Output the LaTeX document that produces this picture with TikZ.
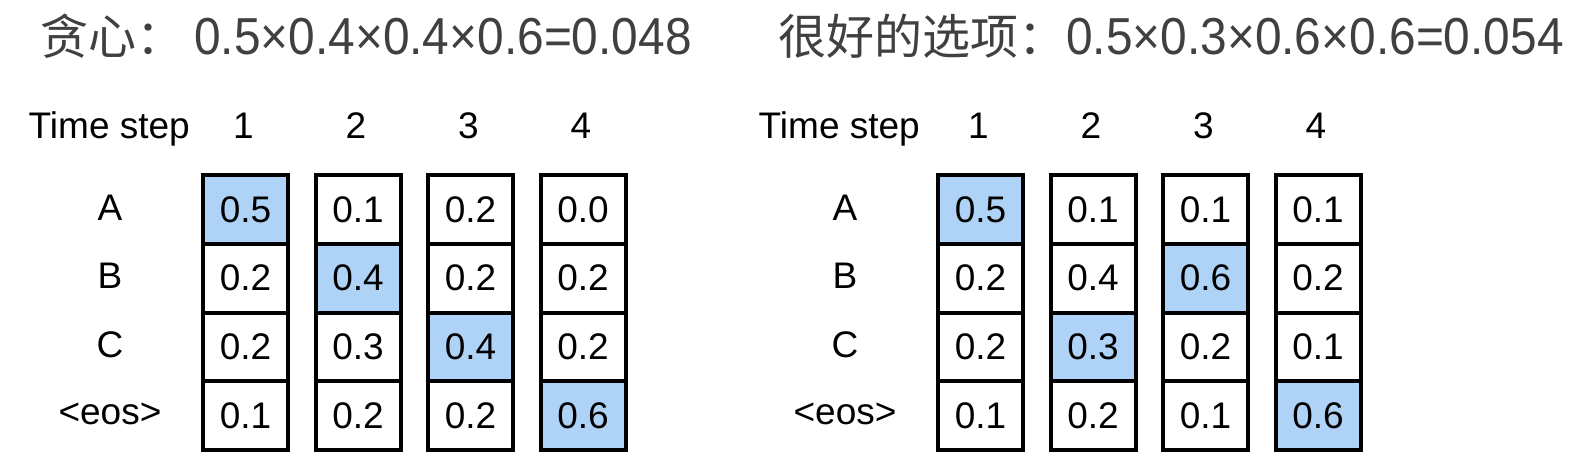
\documentclass[tikz,border=0pt]{standalone}
\usepackage{fontspec}
\setmainfont{Liberation Sans}
\newfontfamily\cjk{Noto Sans CJK SC}
\newfontfamily\titlenum[FakeStretch=0.92]{Liberation Sans}
\definecolor{hl}{RGB}{175,211,246}
\definecolor{titlegray}{RGB}{64,64,64}
\begin{document}
\begin{tikzpicture}[x=1pt,y=-1pt,
  cell/.style={draw=black, line width=4pt, minimum width=85pt, minimum height=68.75pt,
    inner sep=0pt, font=\fontsize{37}{42}\selectfont, anchor=north west},
  lbl/.style={font=\fontsize{37}{42}\selectfont, inner sep=0pt},
  title/.style={font=\fontsize{48}{56}\selectfont, text=titlegray, inner sep=0pt, anchor=base west}]
\useasboundingbox (0,0) rectangle (1574,466);

% titles
\node[title] (t1) at (40,54) {{\cjk 贪心：}\hspace{10pt}{\titlenum\fontsize{52}{60}\selectfont 0.5×0.4×0.4×0.6=0.048}};
\node[title] (t2) at (778,54) {{\cjk 很好的选项：}{\titlenum\fontsize{52}{60}\selectfont 0.5×0.3×0.6×0.6=0.054}};

% left panel
\node[lbl, anchor=base east] (ts1) at (190,138) {Time step};
\foreach \c/\a/\b/\cc/\d/\h in {1/0.5/0.2/0.2/0.1/1, 2/0.1/0.4/0.3/0.2/2, 3/0.2/0.2/0.4/0.2/3, 4/0.0/0.2/0.2/0.6/4}{
  \node[lbl, anchor=base] (Lh-\c) at ({199+(\c-1)*112.5+44.5},138) {\c};
  \foreach \v [count=\r] in {\a,\b,\cc,\d}{
    \ifnum\r=\h \def\fc{hl}\else\def\fc{white}\fi
    \node[cell, fill=\fc] (L-\c-\r) at ({199+(\c-1)*112.5+2},{171+2+(\r-1)*68.75}) {\v};
  }
}
\foreach \t [count=\r] in {A,B,C,{<eos>}}{
  \node[lbl] (Lr-\r) at (110,{171+2+(\r-0.5)*68.75}) {\t};
}

% right panel
\node[lbl, anchor=base east] (ts2) at (920,138) {Time step};
\foreach \c/\a/\b/\cc/\d/\h in {1/0.5/0.2/0.2/0.1/1, 2/0.1/0.4/0.3/0.2/3, 3/0.1/0.6/0.2/0.1/2, 4/0.1/0.2/0.1/0.6/4}{
  \node[lbl, anchor=base] (Rh-\c) at ({934+(\c-1)*112.5+44.5},138) {\c};
  \foreach \v [count=\r] in {\a,\b,\cc,\d}{
    \ifnum\r=\h \def\fc{hl}\else\def\fc{white}\fi
    \node[cell, fill=\fc] (R-\c-\r) at ({934+(\c-1)*112.5+2},{171+2+(\r-1)*68.75}) {\v};
  }
}
\foreach \t [count=\r] in {A,B,C,{<eos>}}{
  \node[lbl] (Rr-\r) at (845,{171+2+(\r-0.5)*68.75}) {\t};
}
\end{tikzpicture}
\end{document}
